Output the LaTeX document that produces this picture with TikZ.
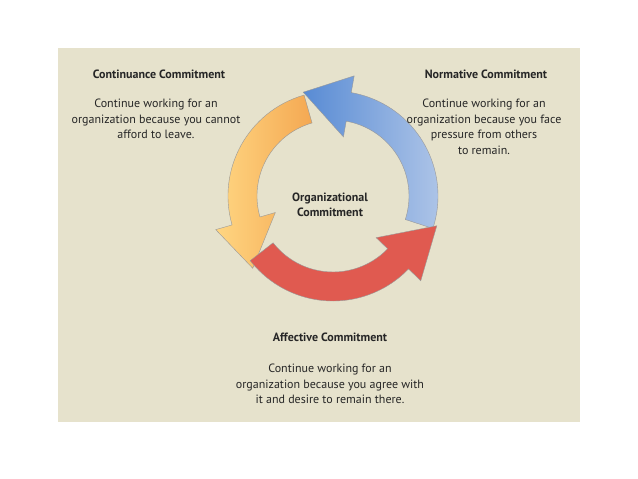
\documentclass[tikz,border=0pt]{standalone}
\usepackage{fontspec}
\setmainfont{PT Sans}
\begin{document}
\begin{tikzpicture}[x=1pt,y=-1pt,
  ttl/.style={font=\bfseries\fontsize{12}{14}\selectfont,text=black!85},
  body/.style={font=\fontsize{12}{15.5}\selectfont,align=center,text=black!85},
  arr/.style={draw=black!40,line width=0.4pt}]
\fill[white] (0,0) rectangle (638,479);
\useasboundingbox (0,0) rectangle (638,479);
\fill[fill={rgb,255:red,230;green,226;blue,204}] (58,48) rectangle (580,422);
\def\cx{333}\def\cy{196}
\newcommand\myarrow[4]{% tail, base, tip, style
 \path[arr,#4] ([shift={(\cx,\cy)}]#1:105) arc[start angle=#1,end angle=#2,radius=105]
  -- ([shift={(\cx,\cy)}]#2:122) -- ([shift={(\cx,\cy)}]#3:108)
  -- ([shift={(\cx,\cy)}]#2:60) -- ([shift={(\cx,\cy)}]#2:76)
  arc[start angle=#2,end angle=#1,radius=76] -- cycle;}
\myarrow{-106}{-196}{-222}{left color={rgb,255:red,255;green,214;blue,130},right color={rgb,255:red,244;green,168;blue,82}}
\myarrow{18}{-80}{-106}{left color={rgb,255:red,88;green,139;blue,212},right color={rgb,255:red,176;green,198;blue,232}}
\myarrow{142}{44}{16}{fill={rgb,255:red,224;green,90;blue,80}}
\node[ttl] (ct) at (159,74) {Continuance Commitment};
\node[body] (cb) at (156,119) {Continue working for an\\organization because you cannot\\afford to leave.};
\node[ttl] (nt) at (486,74) {Normative Commitment};
\node[body] (nb) at (484,127) {Continue working for an\\organization because you face\\pressure from others\\to remain.};
\node[ttl,align=center,font=\bfseries\fontsize{12}{15.5}\selectfont] (oc) at (330,205) {Organizational\\Commitment};
\node[ttl] (at) at (330,337) {Affective Commitment};
\node[body] (ab) at (330,384) {Continue working for an\\organization because you agree with\\it and desire to remain there.};
\end{tikzpicture}
\end{document}
